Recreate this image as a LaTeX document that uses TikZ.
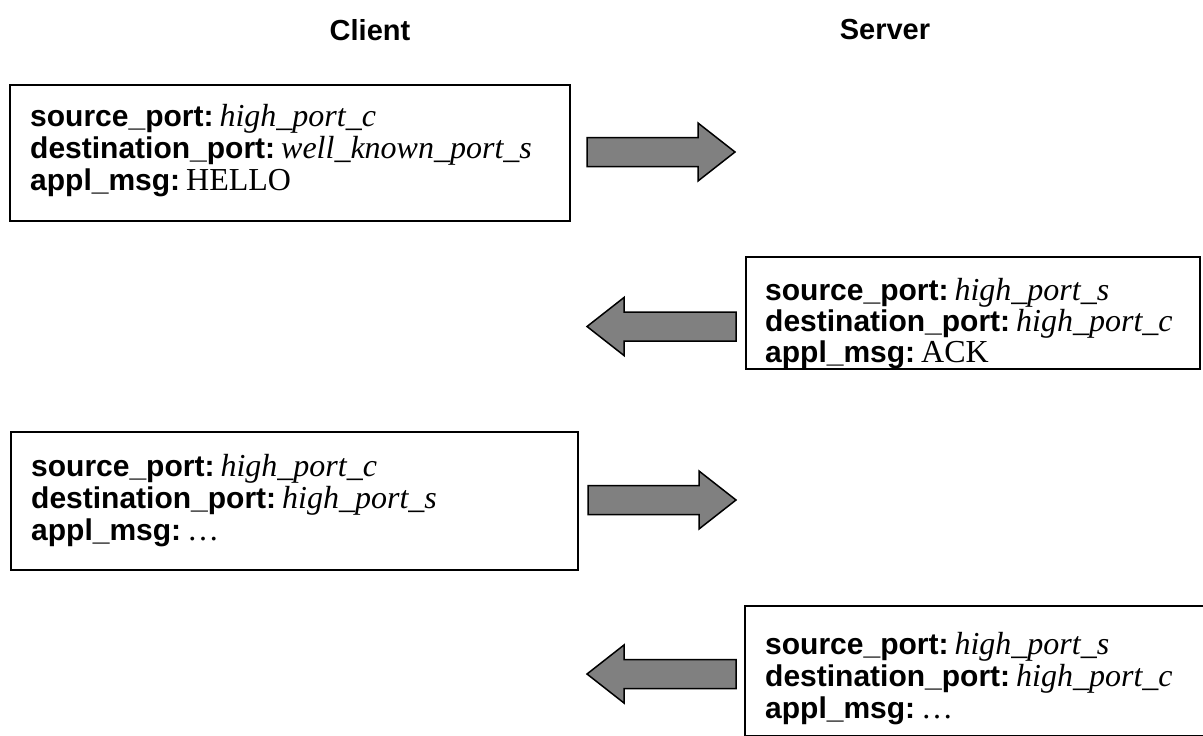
\documentclass[tikz,border=0pt]{standalone}
\usepackage{fontspec}
\setmainfont{Liberation Serif}
\newfontfamily\headfont{Liberation Sans}
\definecolor{arrowgray}{HTML}{808080}
\newcommand\fieldname[1]{{\headfont\bfseries\fontsize{30}{32}\selectfont #1:}\hspace{6pt}}
\tikzset{
  msgbox/.style={draw, line width=1.5pt, inner sep=0pt, anchor=north west},
  msgtext/.style={anchor=base west, inner sep=0pt, text width=600pt, align=left,
    font=\fontsize{32}{32}\selectfont},
  tightlines/.style={font=\fontsize{32}{31}\selectfont},
  title/.style={font=\headfont\bfseries\fontsize{29}{32}\selectfont},
  blockarrow/.style={draw, line width=1.5pt, fill=arrowgray, line join=miter},
  rightblock/.pic={\draw[blockarrow] (0,-14.5) -- (111,-14.5) -- (111,-29) -- (148,0)
      -- (111,29) -- (111,14.5) -- (0,14.5) -- cycle;},
  leftblock/.pic={\draw[blockarrow] (0,0) -- (37,-29) -- (37,-14.5) -- (149,-14.5)
      -- (149,14.5) -- (37,14.5) -- (37,29) -- cycle;}
}
\begin{document}
\begin{tikzpicture}[x=1pt, y=-1pt]
  \useasboundingbox (0,0) rectangle (1203,736);

  % column headings
  \node[title] (client) at (370,30) {Client};
  \node[title] (server) at (885,30) {Server};

  % message boxes
  \node[msgbox, minimum width=560, minimum height=136] (b1) at (9,84) {};
  \node[msgbox, minimum width=454, minimum height=112] (b2) at (745,256) {};
  \node[msgbox, minimum width=567, minimum height=138] (b3) at (10,431) {};
  \node[msgbox, minimum width=462, minimum height=130] (b4) at (744,605) {};

  % message contents
  \node[msgtext] (t1) at ([xshift=21pt, yshift=-42pt]b1.north west)
    {\fieldname{source\_port}\textit{high\_port\_c}\\
     \fieldname{destination\_port}\textit{well\_known\_port\_s}\\
     \fieldname{appl\_msg}HELLO};
  \node[msgtext, tightlines] (t2) at ([xshift=20pt, yshift=-44pt]b2.north west)
    {\fieldname{source\_port}\textit{high\_port\_s}\\
     \fieldname{destination\_port}\textit{high\_port\_c}\\
     \fieldname{appl\_msg}ACK};
  \node[msgtext] (t3) at ([xshift=21pt, yshift=-45pt]b3.north west)
    {\fieldname{source\_port}\textit{high\_port\_c}\\
     \fieldname{destination\_port}\textit{high\_port\_s}\\
     \fieldname{appl\_msg}\ldots};
  \node[msgtext] (t4) at ([xshift=21pt, yshift=-49pt]b4.north west)
    {\fieldname{source\_port}\textit{high\_port\_s}\\
     \fieldname{destination\_port}\textit{high\_port\_c}\\
     \fieldname{appl\_msg}\ldots};

  % direction arrows
  \pic (a1) at (587,152) {rightblock};
  \pic (a2) at (587,326.5) {leftblock};
  \pic (a3) at (588,500) {rightblock};
  \pic (a4) at (587,674) {leftblock};
\end{tikzpicture}
\end{document}
